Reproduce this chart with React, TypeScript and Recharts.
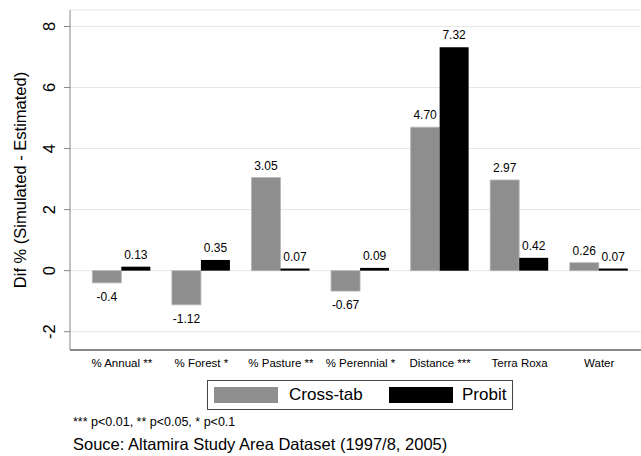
import React from "react";
import {
  BarChart, Bar, XAxis, YAxis, CartesianGrid, Legend, LabelList,
} from "recharts";

const categories = ["% Annual **", "% Forest *", "% Pasture **", "% Perennial *", "Distance ***", "Terra Roxa", "Water"];
const crossTab = [-0.4, -1.12, 3.05, -0.67, 4.7, 2.97, 0.26];
const probit = [0.13, 0.35, 0.07, 0.09, 7.32, 0.42, 0.07];
const crossLabels = ["-0.4", "-1.12", "3.05", "-0.67", "4.70", "2.97", "0.26"];
const probitLabels = ["0.13", "0.35", "0.07", "0.09", "7.32", "0.42", "0.07"];
const yTicks = [-2, 0, 2, 4, 6, 8];

const FONT = '"Liberation Sans", Arial, Helvetica, sans-serif';
const GRAY = "#8e8e8e";

const data = categories.map((c, i) => ({ name: c, cross: crossTab[i], probit: probit[i] }));

function valueLabel(labels: string[]) {
  return (props: any) => {
    const { x, y, width, height, index, value } = props;
    const top = Math.min(y, y + height);
    const bottom = Math.max(y, y + height);
    const ty = value < 0 ? bottom + 18 : top - 8;
    return (
      <text x={x + width / 2} y={ty} textAnchor="middle" fontSize={12} fontFamily={FONT} fill="#000">
        {labels[index]}
      </text>
    );
  };
}

function YTick(props: any) {
  const { x, y, payload } = props;
  return (
    <text transform={`translate(${x - 7},${y}) rotate(-90)`} textAnchor="middle" fontSize={16.5} fontFamily={FONT} fill="#000">
      {payload.value}
    </text>
  );
}

function XTick(props: any) {
  const { x, y, payload } = props;
  return (
    <text x={x} y={y + 17} textAnchor="middle" fontSize={11.5} fontFamily={FONT} fill="#000">
      {payload.value}
    </text>
  );
}

function LegendBox(props: any) {
  const items = props.payload || [];
  const swatchX = [6, 181];
  const textX = [81, 254];
  return (
    <div style={{ position: "relative", width: 306, height: 30, border: "1px solid #444", boxSizing: "border-box", fontFamily: FONT }}>
      {items.map((it: any, i: number) => (
        <React.Fragment key={it.value}>
          <div style={{ position: "absolute", left: swatchX[i], top: 6, width: 64, height: 16, background: it.color }} />
          <div style={{ position: "absolute", left: textX[i], top: 4, fontSize: 17, lineHeight: "20px", color: "#000" }}>{it.value}</div>
        </React.Fragment>
      ))}
    </div>
  );
}

export default function App() {
  return (
    <div style={{ position: "absolute", left: 0, top: 0, width: 641, height: 456, background: "#fff" }}>
      <BarChart width={641} height={456} data={data} margin={{ top: 10, right: 0, bottom: 76, left: 0 }} barCategoryGap="13%" barGap={0}>
        <CartesianGrid horizontal vertical={false} stroke="#e6e6e6" />
        <XAxis dataKey="name" height={30} tickLine={false} tickSize={0} tickMargin={0} axisLine={{ stroke: "#222" }} padding={{ left: 12, right: 2 }} tick={<XTick />} interval={0} />
        <YAxis width={70} domain={[-2.6, 8.54]} ticks={yTicks} type="number" allowDataOverflow axisLine={{ stroke: "#888" }} tickLine={{ stroke: "#888" }} tickSize={6} tickMargin={2} tick={<YTick />}
          label={({ viewBox }: any) => (
            <text transform={`translate(26,${viewBox.y + viewBox.height / 2}) rotate(-90)`} textAnchor="middle" fontSize={16.5} fontFamily={FONT} fill="#000">
              Dif % (Simulated - Estimated)
            </text>
          )}
        />
        <Legend verticalAlign="middle" align="center" layout="horizontal" content={<LegendBox />}
          wrapperStyle={{ position: "absolute", left: 207, top: 380, width: 306, height: 30 }} />
        <Bar dataKey="cross" name="Cross-tab" fill={GRAY} stroke="#b5b5b5" strokeWidth={0.8} isAnimationActive={false}>
          <LabelList dataKey="cross" content={valueLabel(crossLabels)} />
        </Bar>
        <Bar dataKey="probit" name="Probit" fill="#000" isAnimationActive={false}>
          <LabelList dataKey="probit" content={valueLabel(probitLabels)} />
        </Bar>
      </BarChart>
      <div style={{ position: "absolute", left: 73, top: 415, fontSize: 12.5, fontFamily: FONT, color: "#000", whiteSpace: "nowrap" }}>
        *** p&lt;0.01, ** p&lt;0.05, * p&lt;0.1
      </div>
      <div style={{ position: "absolute", left: 73, top: 435, fontSize: 16.5, fontFamily: FONT, color: "#000", whiteSpace: "nowrap" }}>
        Souce: Altamira Study Area Dataset (1997/8, 2005)
      </div>
    </div>
  );
}
